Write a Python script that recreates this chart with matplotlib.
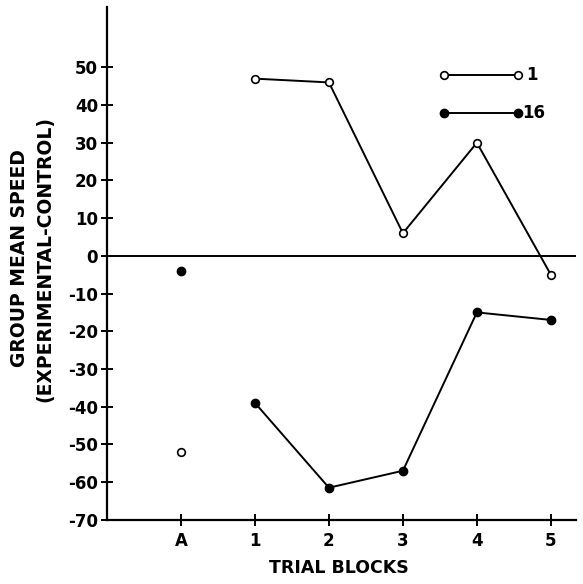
import matplotlib.pyplot as plt

blocks = ["A", "1", "2", "3", "4", "5"]
open_1 = [-52, 47, 46, 6, 30, -5]
filled_16 = [-4, -39, -61.5, -57, -15, -17]
yticks = [50, 40, 30, 20, 10, 0, -10, -20, -30, -40, -50, -60, -70]

plt.rcParams['font.family'] = ['DejaVu Sans']
plt.rcParams['font.weight'] = 'bold'

fig = plt.figure(figsize=(5.83, 5.84), dpi=100)
ax = fig.add_axes([0.1835, 0.110, 0.8045, 0.878])

x = list(range(len(blocks)))

# A points are not connected to the trial blocks
ax.plot(x[0], open_1[0], 'o', ms=5.5, mfc='white', mec='black', mew=1.2)
ax.plot(x[0], filled_16[0], 'o', ms=6, color='black')
ax.plot(x[1:], open_1[1:], '-o', color='black', lw=1.4, ms=5.5, mfc='white', mew=1.2)
ax.plot(x[1:], filled_16[1:], '-o', color='black', lw=1.4, ms=6)

ax.axhline(0, color='black', lw=1.4)

# legend drawn by hand like the original
ax.plot([3.55, 4.55], [48, 48], '-o', color='black', lw=1.4, ms=5.5, mfc='white', mew=1.2)
ax.plot([3.55, 4.55], [38, 38], '-o', color='black', lw=1.4, ms=6)
ax.text(4.66, 48, "1", va='center', ha='left', fontsize=12, fontweight='bold')
ax.text(4.61, 38, "16", va='center', ha='left', fontsize=12, fontweight='bold')

ax.set_xlim(-1, 5.34)
ax.set_ylim(-70, 66)
ax.set_xticks(x)
ax.set_xticklabels(blocks, fontsize=12, fontweight='bold')
ax.set_yticks(yticks)
ax.set_yticklabels([str(v) for v in yticks], fontsize=12, fontweight='bold')
ax.tick_params(direction='inout', length=9, width=1.4, pad=2)
ax.tick_params(axis='x', pad=4)

for s in ['top', 'right']:
    ax.spines[s].set_visible(False)
for s in ['left', 'bottom']:
    ax.spines[s].set_linewidth(1.6)

fig.text(0.582, 0.012, "TRIAL BLOCKS", ha='center', va='bottom', fontsize=12.5, fontweight='bold')
fig.text(0.033, 0.558, "GROUP MEAN SPEED", rotation=90, ha='center', va='center', fontsize=13.5, fontweight='bold')
fig.text(0.077, 0.557, "(EXPERIMENTAL-CONTROL)", rotation=90, ha='center', va='center', fontsize=13.5, fontweight='bold')

fig.savefig("out.png", dpi=100)
